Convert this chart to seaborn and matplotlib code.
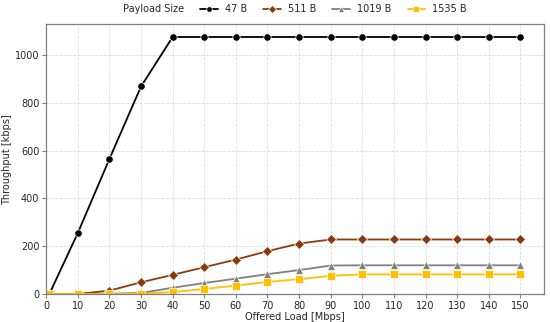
import pandas as pd
import seaborn as sns
import matplotlib.pyplot as plt

# offered load (Mbps) and throughput (kbps) per payload size
load = [1, 10, 20, 30, 40, 50, 60, 70, 80, 90, 100, 110, 120, 130, 140, 150]
tp_47 = [0, 255, 565, 868, 1075, 1075, 1075, 1075, 1075, 1075, 1075, 1075, 1075, 1075, 1075, 1075]
tp_511 = [0, 0, 14, 49, 80, 112, 144, 179, 211, 228, 228, 228, 228, 228, 228, 228]
tp_1019 = [0, 0, 1, 4, 26, 46, 64, 83, 100, 119, 120, 120, 120, 120, 120, 120]
tp_1535 = [0, 0, 0, 1, 8, 21, 35, 50, 62, 76, 82, 82, 82, 82, 82, 82]
sizes = ["47 B", "511 B", "1019 B", "1535 B"]

df = pd.DataFrame({
    "load": load * 4,
    "tp": tp_47 + tp_511 + tp_1019 + tp_1535,
    "size": [s for s in sizes for _ in load],
})

sns.set_style("whitegrid")
plt.rcParams["font.family"] = ["DejaVu Sans"]
fs = 7

colors = {"47 B": "black", "511 B": "#8B3A0F", "1019 B": "gray", "1535 B": "#FFC000"}
markers = {"47 B": "o", "511 B": "D", "1019 B": "^", "1535 B": "s"}

fig = plt.figure(figsize=(5.5, 3.22), dpi=100)
ax = fig.add_axes([0.084, 0.087, 0.905, 0.838])

sns.lineplot(data=df, x="load", y="tp", hue="size", style="size", palette=colors,
             markers=markers, dashes=False, markersize=5.3, linewidth=1.3,
             markeredgewidth=0.5, ax=ax)

ax.set_xlim(left=0)
ax.set_ylim(bottom=0)
ax.set_xticks(range(0, 151, 10))
ax.set_yticks(range(0, 1001, 200))
ax.tick_params(labelsize=fs, length=3, color="gray", left=True, bottom=True, pad=2)
ax.grid(True, color="#dddddd", linestyle="--", linewidth=0.6)
for s in ax.spines.values():
    s.set_color("gray")
    s.set_linewidth(0.9)
ax.set_xlabel("Offered Load [Mbps]", fontsize=fs, labelpad=1)
ax.set_ylabel("Throughput [kbps]", fontsize=fs, labelpad=2)

handles, labels = ax.get_legend_handles_labels()
ax.legend(handles, labels, loc="center left", bbox_to_anchor=(0.364, 0.972),
          bbox_transform=fig.transFigure, ncol=4, frameon=False, fontsize=fs,
          handlelength=1.8, handletextpad=0.7, columnspacing=1.7, markerscale=0.75,
          borderpad=0, borderaxespad=0)
fig.text(0.334, 0.972, "Payload Size", ha="right", va="center", fontsize=fs)

fig.savefig("out.png", dpi=100)
